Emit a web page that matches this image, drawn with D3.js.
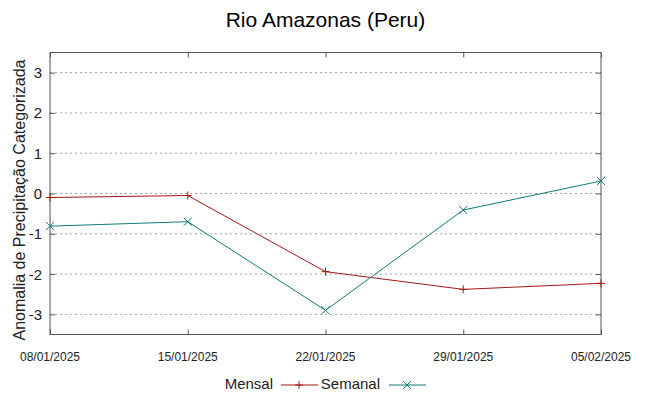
<!DOCTYPE html>
<html>
<head>
<meta charset="utf-8">
<script src="https://cdn.jsdelivr.net/npm/d3@7"></script>
<style>
  body { margin: 0; background: #fff; }
</style>
</head>
<body>
<div id="chart"></div>
<script>
// chart values
const dates = ["08/01/2025", "15/01/2025", "22/01/2025", "29/01/2025", "05/02/2025"];
const mensal = [-0.10, -0.05, -1.94, -2.38, -2.23];
const semanal = [-0.81, -0.70, -2.90, -0.41, 0.31];
const yTicks = [-3, -2, -1, 0, 1, 2, 3];

const font = "Liberation Sans, Arial, sans-serif";
const size = {width: 649, height: 396};
const margin = {top: 52.5, right: 48, bottom: 61.5, left: 50};
const width = size.width - margin.left - margin.right;
const height = size.height - margin.top - margin.bottom;

const parse = d3.timeParse("%d/%m/%Y");
const fmt = d3.timeFormat("%d/%m/%Y");
const dateObjs = dates.map(parse);

const svg = d3.select("#chart").append("svg")
    .attr("width", size.width)
    .attr("height", size.height)
    .attr("font-family", font);

const g = svg.append("g")
    .attr("transform", "translate(" + margin.left + "," + margin.top + ")");

const xScale = d3.scaleTime().domain(d3.extent(dateObjs)).range([0, width]);
const yScale = d3.scaleLinear().domain([-3.5, 3.5]).range([height, 0]);

// grid lines
g.append("g").selectAll("line")
    .data(yTicks)
    .join("line")
    .attr("x1", 0).attr("x2", width)
    .attr("y1", d => yScale(d)).attr("y2", d => yScale(d))
    .attr("stroke", "#a0a0a0")
    .attr("stroke-width", 1)
    .attr("stroke-dasharray", "2,3");

// axes: ticks pointing inward, mirrored on top and right
const axisColor = "#555";
const styleAxis = sel => {
    sel.select(".domain").remove();
    sel.selectAll(".tick line").attr("stroke", axisColor);
};

g.append("g")
    .attr("transform", "translate(0," + height + ")")
    .call(d3.axisBottom(xScale).tickValues(dateObjs).tickFormat("").tickSizeInner(-5))
    .call(styleAxis);

g.append("g")
    .call(d3.axisTop(xScale).tickValues(dateObjs).tickFormat("").tickSizeInner(-5))
    .call(styleAxis);

g.append("g")
    .call(d3.axisLeft(yScale).tickValues(yTicks).tickFormat("").tickSizeInner(-5))
    .call(styleAxis);

g.append("g")
    .attr("transform", "translate(" + width + ",0)")
    .call(d3.axisRight(yScale).tickValues(yTicks).tickFormat("").tickSizeInner(-5))
    .call(styleAxis);

// tick labels
g.append("g").selectAll("text")
    .data(dateObjs)
    .join("text")
    .attr("x", d => xScale(d))
    .attr("y", height + 26.5)
    .attr("text-anchor", "middle")
    .attr("font-size", 12)
    .attr("fill", "#222")
    .text(d => fmt(d));

g.append("g").selectAll("text")
    .data(yTicks)
    .join("text")
    .attr("x", -8)
    .attr("y", d => yScale(d) + 5.5)
    .attr("text-anchor", "end")
    .attr("font-size", 15)
    .attr("fill", "#222")
    .text(d => String(d));

// frame
g.append("rect")
    .attr("width", width).attr("height", height)
    .attr("fill", "none")
    .attr("stroke", axisColor)
    .attr("stroke-width", 1);

// series
const series = [
    {name: "Mensal", values: mensal, color: "#a01818", marker: "plus"},
    {name: "Semanal", values: semanal, color: "#117a7a", marker: "cross"}
];

const line = d3.line()
    .x((d, i) => xScale(dateObjs[i]))
    .y(d => yScale(d));

const markerPath = (type, s) => type === "plus"
    ? "M" + (-s) + ",0H" + s + "M0," + (-s) + "V" + s
    : "M" + (-s) + "," + (-s) + "L" + s + "," + s + "M" + (-s) + "," + s + "L" + s + "," + (-s);

series.forEach(s => {
    g.append("path")
        .datum(s.values)
        .attr("fill", "none")
        .attr("stroke", s.color)
        .attr("stroke-width", 1)
        .attr("d", line);

    g.append("g").selectAll("path")
        .data(s.values)
        .join("path")
        .attr("transform", (d, i) => "translate(" + xScale(dateObjs[i]) + "," + yScale(d) + ")")
        .attr("d", markerPath(s.marker, 4))
        .attr("stroke", s.color)
        .attr("stroke-width", 1)
        .attr("fill", "none");
});

// title
svg.append("text")
    .attr("x", size.width / 2 + 1)
    .attr("y", 26.5)
    .attr("text-anchor", "middle")
    .attr("font-size", 21)
    .attr("fill", "#000")
    .text("Rio Amazonas (Peru)");

// y label
svg.append("text")
    .attr("transform", "translate(25,200) rotate(-90)")
    .attr("text-anchor", "middle")
    .attr("font-size", 16)
    .attr("fill", "#222")
    .text("Anomalia de Precipitação Categorizada");

// legend
const legend = svg.append("g").attr("transform", "translate(0,385)");
const legendItems = [
    {x: 273, lx: 281, s: series[0]},
    {x: 380, lx: 389, s: series[1]}
];
legendItems.forEach(item => {
    legend.append("text")
        .attr("x", item.x)
        .attr("y", 3.5)
        .attr("text-anchor", "end")
        .attr("font-size", 15)
        .attr("fill", "#222")
        .text(item.s.name);
    legend.append("line")
        .attr("x1", item.lx).attr("x2", item.lx + 37)
        .attr("y1", 0).attr("y2", 0)
        .attr("stroke", item.s.color)
        .attr("stroke-width", 1);
    legend.append("path")
        .attr("transform", "translate(" + (item.lx + 18) + ",0)")
        .attr("d", markerPath(item.s.marker, 4))
        .attr("stroke", item.s.color)
        .attr("fill", "none");
});
</script>
</body>
</html>
